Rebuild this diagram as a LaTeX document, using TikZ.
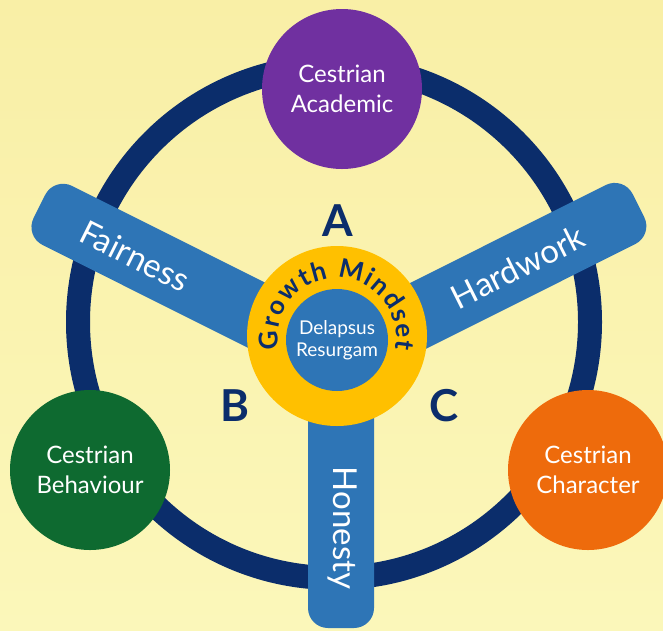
\documentclass[tikz,border=0pt]{standalone}
\usepackage{fontspec}
\setmainfont{Lato}
\usetikzlibrary{decorations.text}
\definecolor{bgtop}{HTML}{F9EFA6}
\definecolor{bgbot}{HTML}{FBF7BA}
\definecolor{navy}{HTML}{0B2D6B}
\definecolor{barblue}{HTML}{2E75B6}
\definecolor{purp}{HTML}{7030A0}
\definecolor{grn}{HTML}{0E6A30}
\definecolor{orng}{HTML}{EE6B0C}
\definecolor{gold}{HTML}{FFC000}
\begin{document}
\begin{tikzpicture}[x=1pt,y=1pt,
  bubble/.style={circle, minimum size=160pt, inner sep=0pt, text=white,
    font=\fontsize{24}{30}\selectfont, align=center},
  bartext/.style={text=white, font=\fontsize{33}{33}\selectfont},
  letter/.style={text=navy, font=\bfseries\fontsize{44}{44}\selectfont},
  barshape/.style={fill=barblue, rounded corners=20pt}]
\shade[top color=bgtop, bottom color=bgbot] (0,0) rectangle (663,-630);
\useasboundingbox (0,0) rectangle (663,-630);
% outer ring
\coordinate (rc) at (334,-322);
\draw[navy, line width=24pt] (rc) circle[radius=256];
% spokes
\coordinate (hub) at (338,-356);
\coordinate (hubv) at (341,-356);
\begin{scope}[shift={(hub)}, rotate=153.4]
  \fill[barshape] (0,-33) rectangle (334,33);
\end{scope}
\begin{scope}[shift={(hub)}, rotate=26.6]
  \fill[barshape] (0,-33) rectangle (336,33);
\end{scope}
\begin{scope}[shift={(hubv)}, rotate=-90]
  \fill[barshape] (0,-33) rectangle (272,33);
\end{scope}
\node[bartext, rotate=-26.6] (fair) at (135,-256) {Fairness};
\node[bartext, rotate=26.6] (hard) at (518,-267) {Hardwork};
\node[bartext, rotate=-90] (hon) at (342,-528) {Honesty};
% centre
\node[circle, fill=gold, minimum size=180pt, inner sep=0pt] (gm) at (337,-336) {};
\node[circle, fill=barblue, minimum size=102pt, inner sep=0pt, text=white,
  align=center, font=\fontsize{19}{22}\selectfont] (dr) at (337,-340) {Delapsus\\Resurgam};
\coordinate (gmc) at (337,-337);
\path[decorate, decoration={text along path,
   text={|\bfseries\fontsize{26}{26}\selectfont|Growth Mindset},
   text color=navy, text align=fit to path}]
   ([shift={(192:59)}]gmc) arc[start angle=192, end angle=-12, radius=59];
% outer bubbles
\node[bubble, fill=purp] (acad) at (342,-89) {Cestrian\\Academic};
\node[bubble, fill=grn] (behav) at (90,-470) {Cestrian\\Behaviour};
\node[bubble, fill=orng] (char) at (588,-470) {Cestrian\\Character};
% letters
\node[letter] (A) at (338,-221) {A};
\node[letter] (B) at (235,-406) {B};
\node[letter] (C) at (444,-406) {C};
\end{tikzpicture}
\end{document}
